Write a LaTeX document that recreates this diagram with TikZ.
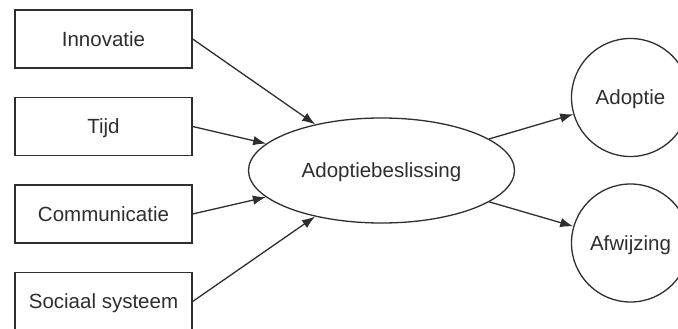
\documentclass[tikz,border=0pt]{standalone}
\usepackage{fontspec}
\setmainfont{Liberation Sans}
\usetikzlibrary{shapes.geometric,arrows.meta}
\definecolor{ink}{HTML}{2E2E2E}
\tikzset{
  label text/.style={text=ink, font=\fontsize{20.5}{24}\selectfont, text height=14.7pt, text depth=0pt},
  factor/.style={draw=ink, line width=1.3pt, rectangle, minimum width=177pt, minimum height=58pt, inner sep=0pt, label text},
  decision/.style={draw=ink, line width=1.3pt, ellipse, minimum width=266pt, minimum height=105pt, inner sep=0pt, label text},
  outcome/.style={draw=ink, line width=1.3pt, circle, minimum size=118pt, inner sep=0pt, label text},
  flow/.style={draw=ink, line width=1.3pt, -{Latex[length=13pt,width=9.5pt]}}
}
\begin{document}
\begin{tikzpicture}[x=1pt,y=-1pt]
  \useasboundingbox (0,0) rectangle (678,329);
  \fill[white] (0,0) rectangle (678,329);
  \clip (0,0) rectangle (678,329);

  % influencing factors
  \node[factor] (inn) at (103.5,39)    {Innovatie};
  \node[factor] (tij) at (103.5,126.5) {Tijd};
  \node[factor] (com) at (103.5,214)   {Communicatie};
  \node[factor] (soc) at (103.5,301.5) {Sociaal systeem};

  % central decision
  \node[decision] (dec) at (381.5,170.5) {Adoptiebeslissing};

  % outcomes
  \node[outcome] (ado) at (630.5,97.5)  {Adoptie};
  \node[outcome] (afw) at (630.5,243)   {Afwijzing};

  % connectors
  \draw[flow] (inn.east) -- (dec);
  \draw[flow] (tij.east) -- (dec);
  \draw[flow] (com.east) -- (dec);
  \draw[flow] (soc.east) -- (dec);
  \draw[flow] (dec) -- (ado);
  \draw[flow] (dec) -- (afw);
\end{tikzpicture}
\end{document}
